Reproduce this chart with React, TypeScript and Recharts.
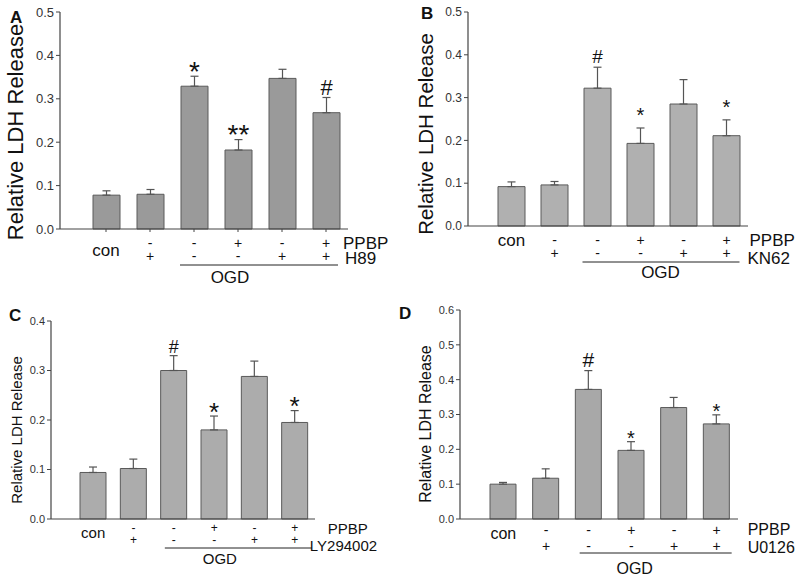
import { BarChart, Bar, XAxis, YAxis, ErrorBar, LabelList } from 'recharts'

// treatment groups, same order in every panel
const groups = ['con', 'g2', 'g3', 'g4', 'g5', 'g6']
const ppbpSigns = ['', '-', '-', '+', '-', '+']
const inhibitorSigns = ['', '+', '-', '-', '+', '+']

// panel A - H89
const valuesA = [0.078, 0.08, 0.329, 0.182, 0.347, 0.268]
const errorsA = [0.01, 0.011, 0.023, 0.024, 0.021, 0.035]
const marksA = ['', '', '*', '**', '', '#']
const ticksA = [0, 0.1, 0.2, 0.3, 0.4, 0.5]

// panel B - KN62
const valuesB = [0.092, 0.096, 0.322, 0.193, 0.285, 0.211]
const errorsB = [0.011, 0.008, 0.049, 0.036, 0.057, 0.037]
const marksB = ['', '', '#', '*', '', '*']
const ticksB = [0, 0.1, 0.2, 0.3, 0.4, 0.5]

// panel C - LY294002
const valuesC = [0.094, 0.102, 0.3, 0.18, 0.288, 0.195]
const errorsC = [0.011, 0.019, 0.03, 0.028, 0.031, 0.024]
const marksC = ['', '', '#', '*', '', '*']
const ticksC = [0, 0.1, 0.2, 0.3, 0.4]

// panel D - U0126
const valuesD = [0.1, 0.117, 0.372, 0.197, 0.32, 0.273]
const errorsD = [0.005, 0.027, 0.054, 0.025, 0.029, 0.026]
const marksD = ['', '', '#', '*', '', '*']
const ticksD = [0, 0.1, 0.2, 0.3, 0.4, 0.5, 0.6]

const FONT = '"Liberation Sans", Arial, Helvetica, sans-serif'

type Layout = {
  letter: string
  inhibitor: string
  values: number[]
  errors: number[]
  marks: string[]
  ticks: number[]
  left: number
  top: number
  width: number
  height: number
  margin: { top: number; right: number; left: number; bottom: number }
  yAxisWidth: number
  padLeft: number
  barSize: number
  fill: string
  xTicks: boolean
  yTickFont: number
  labelFont: number
  signFont: number
  starFont: number
  starGap: number
  hashFont: number
  hashGap: number
  // offsets below the x axis (text centres)
  row1: number
  row2: number
  conY: number
  name1Y: number
  name2Y: number
  lineY: number
  ogdY: number
  name1Dx: number
  name2Dx: number
  ogdFrom: number
  ogdTo: number
  ogdDx: number
  titleFont: number
  titleX: number
  titleY: number
  letterX: number
  letterY: number
}

const panels: Layout[] = [
  {
    letter: 'A', inhibitor: 'H89', values: valuesA, errors: errorsA, marks: marksA, ticks: ticksA,
    left: 0, top: 0, width: 400, height: 290,
    margin: { top: 12, right: 52, left: 0, bottom: 11 },
    yAxisWidth: 60, padLeft: 24, barSize: 27, fill: '#9a9a9a', xTicks: true,
    yTickFont: 13, labelFont: 17, signFont: 14, starFont: 28, starGap: 4, hashFont: 22, hashGap: 2,
    row1: 14, row2: 27, conY: 21, name1Y: 14, name2Y: 29, lineY: 36, ogdY: 48,
    name1Dx: 17, name2Dx: 19, ogdFrom: -14, ogdTo: 144, ogdDx: 36,
    titleFont: 22, titleX: 15, titleY: 132, letterX: 10, letterY: 23,
  },
  {
    letter: 'B', inhibitor: 'KN62', values: valuesB, errors: errorsB, marks: marksB, ticks: ticksB,
    left: 400, top: 0, width: 400, height: 290,
    margin: { top: 12, right: 52, left: 0, bottom: 14 },
    yAxisWidth: 68, padLeft: 22, barSize: 27, fill: '#b0b0b0', xTicks: false,
    yTickFont: 12, labelFont: 17, signFont: 14, starFont: 20, starGap: 12, hashFont: 19, hashGap: 4,
    row1: 14, row2: 27, conY: 14, name1Y: 14, name2Y: 32, lineY: 36, ogdY: 46,
    name1Dx: 23, name2Dx: 21, ogdFrom: -15, ogdTo: 142, ogdDx: 63,
    titleFont: 20.5, titleX: 425, titleY: 134, letterX: 421, letterY: 19,
  },
  {
    letter: 'C', inhibitor: 'LY294002', values: valuesC, errors: errorsC, marks: marksC, ticks: ticksC,
    left: 0, top: 290, width: 400, height: 286,
    margin: { top: 31, right: 85, left: 0, bottom: 7 },
    yAxisWidth: 51, padLeft: 22, barSize: 26, fill: '#acacac', xTicks: false,
    yTickFont: 11, labelFont: 15, signFont: 12, starFont: 26, starGap: 3, hashFont: 18, hashGap: 3,
    row1: 9, row2: 21, conY: 13, name1Y: 9, name2Y: 26, lineY: 29, ogdY: 39,
    name1Dx: 33, name2Dx: 15, ogdFrom: -9, ogdTo: 138, ogdDx: 46,
    titleFont: 15, titleX: 16, titleY: 430, letterX: 9, letterY: 321,
  },
  {
    letter: 'D', inhibitor: 'U0126', values: valuesD, errors: errorsD, marks: marksD, ticks: ticksD,
    left: 400, top: 290, width: 400, height: 286,
    margin: { top: 20, right: 62, left: 0, bottom: 7 },
    yAxisWidth: 60, padLeft: 22, barSize: 26, fill: '#a8a8a8', xTicks: false,
    yTickFont: 11, labelFont: 16, signFont: 14, starFont: 20, starGap: 3, hashFont: 21, hashGap: 4,
    row1: 11, row2: 27, conY: 14, name1Y: 10, name2Y: 28, lineY: 34, ogdY: 49,
    name1Dx: 31, name2Dx: 31, ogdFrom: -9, ogdTo: 143, ogdDx: 46,
    titleFont: 16, titleX: 425, titleY: 424, letterX: 399, letterY: 319,
  },
]

const TICK_SIZE = 3

function Panel({ p }: { p: Layout }) {
  const data = groups.map((g, i) => ({
    group: g,
    value: p.values[i],
    err: [0, p.errors[i]],
    mark: p.marks[i],
  }))

  const renderTick = (props: any) => {
    const { x, y, payload } = props
    const i = payload.index ?? groups.indexOf(payload.value)
    const ay = y - TICK_SIZE
    const ts = { fontFamily: FONT, fontSize: p.labelFont, fill: '#111' }
    const ss = { fontFamily: FONT, fontSize: p.signFont, fill: '#111' }
    return (
      <g>
        {i === 0 ? (
          <text x={x} y={ay + p.conY} textAnchor="middle" dominantBaseline="central" {...ts}>con</text>
        ) : (
          <>
            <text x={x} y={ay + p.row1} textAnchor="middle" dominantBaseline="central" {...ss}>{ppbpSigns[i]}</text>
            <text x={x} y={ay + p.row2} textAnchor="middle" dominantBaseline="central" {...ss}>{inhibitorSigns[i]}</text>
          </>
        )}
        {i === 2 && (
          <>
            <line x1={x + p.ogdFrom} x2={x + p.ogdTo} y1={ay + p.lineY} y2={ay + p.lineY} stroke="#222" strokeWidth={1} />
            <text x={x + p.ogdDx} y={ay + p.ogdY} textAnchor="middle" dominantBaseline="central" {...ts}>OGD</text>
          </>
        )}
        {i === groups.length - 1 && (
          <>
            <text x={x + p.name1Dx} y={ay + p.name1Y} dominantBaseline="central" {...ts}>PPBP</text>
            <text x={x + p.name2Dx} y={ay + p.name2Y} dominantBaseline="central" {...ts}>{p.inhibitor}</text>
          </>
        )}
      </g>
    )
  }

  const renderMark = (props: any) => {
    const { x, y, width, height, index } = props
    const m = p.marks[index]
    if (!m) return null
    const v = p.values[index]
    const errTop = y - p.errors[index] * (height / v)
    const cx = x + width / 2
    const isStar = m.startsWith('*')
    const fs = isStar ? p.starFont : p.hashFont
    const base = isStar ? errTop - p.starGap + 0.3 * fs : errTop - p.hashGap
    return (
      <text key={`m${index}`} x={cx} y={base} textAnchor="middle" fontFamily={FONT} fontSize={fs} fill="#111">
        {m}
      </text>
    )
  }

  return (
    <div style={{ position: 'absolute', left: p.left, top: p.top, width: p.width, height: p.height }}>
      <BarChart width={p.width} height={p.height} data={data} margin={p.margin}>
        <XAxis
          dataKey="group"
          height={50}
          padding={{ left: p.padLeft, right: 0 }}
          axisLine={{ stroke: '#444', strokeWidth: 1.2 }}
          tickLine={p.xTicks ? { stroke: '#444' } : { stroke: 'none' }}
          tickSize={TICK_SIZE}
          tickMargin={0}
          interval={0}
          tick={renderTick}
        />
        <YAxis
          width={p.yAxisWidth}
          domain={[0, p.ticks[p.ticks.length - 1]]}
          ticks={p.ticks}
          interval={0}
          tickFormatter={(v: number) => v.toFixed(1)}
          axisLine={{ stroke: '#444', strokeWidth: 1.2 }}
          tickLine={{ stroke: '#444' }}
          tickSize={4}
          tickMargin={2}
          tick={{ fontFamily: FONT, fontSize: p.yTickFont, fill: '#333' }}
        />
        <Bar dataKey="value" fill={p.fill} stroke="#5a5a5a" strokeWidth={1} barSize={p.barSize} isAnimationActive={false}>
          <ErrorBar dataKey="err" direction="y" width={4} stroke="#555" strokeWidth={1.2} isAnimationActive={false} />
          <LabelList dataKey="mark" content={renderMark} />
        </Bar>
      </BarChart>
    </div>
  )
}

export default function App() {
  return (
    <div style={{ position: 'absolute', left: 0, top: 0, width: 800, height: 576, background: '#fff', fontFamily: FONT }}>
      {panels.map((p) => (
        <Panel key={p.letter} p={p} />
      ))}
      <svg width={800} height={576} style={{ position: 'absolute', left: 0, top: 0, pointerEvents: 'none' }}>
        {panels.map((p) => (
          <g key={p.letter}>
            <text x={p.letterX} y={p.letterY} fontFamily={FONT} fontSize={17} fontWeight="bold" fill="#111">
              {p.letter}
            </text>
            <text
              x={p.titleX}
              y={p.titleY}
              transform={`rotate(-90 ${p.titleX} ${p.titleY})`}
              textAnchor="middle"
              dominantBaseline="central"
              fontFamily={FONT}
              fontSize={p.titleFont}
              fill="#111"
            >
              Relative LDH Release
            </text>
          </g>
        ))}
      </svg>
    </div>
  )
}
